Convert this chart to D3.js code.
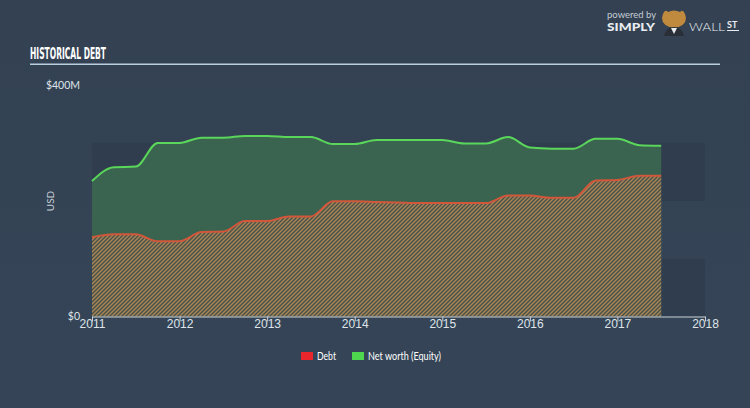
<!DOCTYPE html>
<html><head><meta charset="utf-8">
<script src="https://cdn.jsdelivr.net/npm/d3@7"></script>
<style>html,body{margin:0;padding:0;background:#344254;}svg{display:block}</style>
</head><body>
<svg id="c" width="750" height="408"></svg>
<script>
const quarters = [2011.0,2011.25,2011.5,2011.75,2012.0,2012.25,2012.5,2012.75,2013.0,2013.25,2013.5,2013.75,2014.0,2014.25,2014.5,2014.75,2015.0,2015.25,2015.5,2015.75,2016.0,2016.25,2016.5,2016.75,2017.0,2017.25,2017.5];
const debt =   [137,142,142,130,130,146,147,165,165,173,173,199,199,198,197,196,196,196,196,209,209,205,205,235,236,243,243];
const equity = [234,258,259,300,300,309,309,312,312,310,310,298,298,305,305,305,305,299,299,310,292,290,290,307,307,296,295];
const yearTicks = [2011,2012,2013,2014,2015,2016,2017,2018];
const yTicks = [0,400];
const yTickLabels = ["$0","$400M"];
const bands = [[0,100],[200,300]];
const seriesNames = ["Debt","Net worth (Equity)"];
const seriesColors = ["#e8262b","#4fd64f"];

const svg = d3.select("#c");
const W=750,H=408;
const defs = svg.append("defs");
const g0 = defs.append("linearGradient").attr("id","bg").attr("x1",0).attr("y1",0).attr("x2",0).attr("y2",1);
g0.append("stop").attr("offset","0").attr("stop-color","#334152");
g0.append("stop").attr("offset","1").attr("stop-color","#354557");
svg.append("rect").attr("width",W).attr("height",H).attr("fill","url(#bg)");

const pat = defs.append("pattern").attr("id","hatch").attr("patternUnits","userSpaceOnUse")
  .attr("width",4).attr("height",4);
pat.append("rect").attr("width",4).attr("height",4).attr("fill","#4a5147");
pat.append("path").attr("d","M-1,1 l2,-2 M0,4 l4,-4 M3,5 l2,-2")
  .attr("stroke","#a88658").attr("stroke-width",1.4);

const x = d3.scaleLinear().domain([2011,2018]).range([92,705]);
const y = d3.scaleLinear().domain([0,400]).range([316.5,85]);

// bands
svg.append("g").selectAll("rect").data(bands).join("rect")
  .attr("x",x(2011)).attr("width",x(2018)-x(2011))
  .attr("y",d=>y(d[1])).attr("height",d=>y(d[0])-y(d[1]))
  .attr("fill","#303d4e");

const eqData = quarters.map((q,i)=>({x:q,v:equity[i]}));
const dbData = quarters.map((q,i)=>({x:q,v:debt[i]}));
const area = d3.area().x(d=>x(d.x)).y0(y(0)).y1(d=>y(d.v)).curve(d3.curveMonotoneX);
const line = d3.line().x(d=>x(d.x)).y(d=>y(d.v)).curve(d3.curveMonotoneX);

svg.append("path").datum(eqData).attr("d",area).attr("fill","#3a6450");
svg.append("path").datum(dbData).attr("d",area).attr("fill","url(#hatch)");
svg.append("path").datum(dbData).attr("d",line).attr("fill","none").attr("stroke","#d2563a").attr("stroke-width",2);
svg.append("path").datum(eqData).attr("d",line).attr("fill","none").attr("stroke","#5ad65a").attr("stroke-width",2);

// x axis
const xa = svg.append("g").attr("transform",`translate(0,${y(0)})`)
  .call(d3.axisBottom(x).tickValues(yearTicks).tickFormat(d3.format("d")).tickSize(5).tickSizeOuter(0));
xa.select(".domain").attr("stroke","#c9d0d8").attr("stroke-width",1.2);
xa.selectAll(".tick line").attr("stroke","#c9d0d8");
xa.selectAll(".tick text").attr("fill","#dfe4ea").attr("font-family","'Liberation Sans Narrow','Liberation Sans',sans-serif")
  .attr("font-size","12px").attr("dy","0.55em").attr("y",5);

// y labels
svg.append("g").selectAll("text").data(yTicks).join("text")
  .attr("x",80).attr("y",d=>y(d)).attr("dy","0.35em").attr("text-anchor","end")
  .attr("fill","#dfe4ea").attr("font-family","Lato,sans-serif").attr("font-size","10.5px")
  .text((d,i)=>yTickLabels[i]);
svg.append("text").attr("transform","translate(54,201) rotate(-90)").attr("text-anchor","middle")
  .attr("fill","#c9d0d8").attr("font-family","Lato,sans-serif").attr("font-size","10px").text("USD");

// title
svg.append("text").attr("x",30).attr("y",58.5).attr("fill","#ffffff")
  .attr("font-family","'Liberation Sans Narrow','DejaVu Sans Condensed',sans-serif").attr("font-weight","bold")
  .attr("font-size","15px").attr("textLength",76).attr("lengthAdjust","spacingAndGlyphs").text("HISTORICAL DEBT");
svg.append("line").attr("x1",30).attr("x2",720).attr("y1",64.3).attr("y2",64.3)
  .attr("stroke","#b9cde0").attr("stroke-width",1.6);

// legend
const leg = svg.append("g");
const legX = [301,352];
seriesNames.forEach((n,i)=>{
  leg.append("rect").attr("x",legX[i]).attr("y",352).attr("width",12).attr("height",8).attr("fill",seriesColors[i]);
  leg.append("text").attr("x",legX[i]+16).attr("y",356).attr("dy","0.35em").attr("fill","#ffffff")
    .attr("font-family","Lato,sans-serif").attr("font-size","10.5px")
    .attr("textLength",i===0?19:73).attr("lengthAdjust","spacingAndGlyphs").text(n);
});

// logo
const lg = svg.append("g");
lg.append("text").attr("x",607).attr("y",18).attr("fill","#c4ccd4").attr("font-family","Lato,sans-serif").attr("font-size","9.5px").text("powered by");
lg.append("text").attr("x",607).attr("y",31).attr("fill","#e8ecf0").attr("font-family","Lato,sans-serif").attr("font-weight","900").attr("font-size","12px").attr("textLength",48).attr("lengthAdjust","spacingAndGlyphs").text("SIMPLY");
lg.append("path").attr("d","M662,18 Q664,8 668,12 Q674,9 680,12 Q684,8 686,18 Q686,26 674,28 Q662,26 662,18Z").attr("fill","#c08a3e");
lg.append("path").attr("d","M664,36 Q666,27 674,27 Q682,27 684,36Z").attr("fill","#2a2e36");
lg.append("path").attr("d","M671,28 L674,34 L677,28Z").attr("fill","#e8ecf0");
lg.append("text").attr("x",689).attr("y",31).attr("fill","#e8ecf0").attr("font-family","Lato,sans-serif").attr("font-weight","300").attr("font-size","12px").attr("textLength",36).attr("lengthAdjust","spacingAndGlyphs").text("WALL");
lg.append("text").attr("x",727).attr("y",28).attr("fill","#e8ecf0").attr("font-family","Lato,sans-serif").attr("font-weight","bold").attr("font-size","9px").text("ST");
lg.append("line").attr("x1",727).attr("x2",739).attr("y1",30.5).attr("y2",30.5).attr("stroke","#e8ecf0").attr("stroke-width",1);
</script>
</body></html>
